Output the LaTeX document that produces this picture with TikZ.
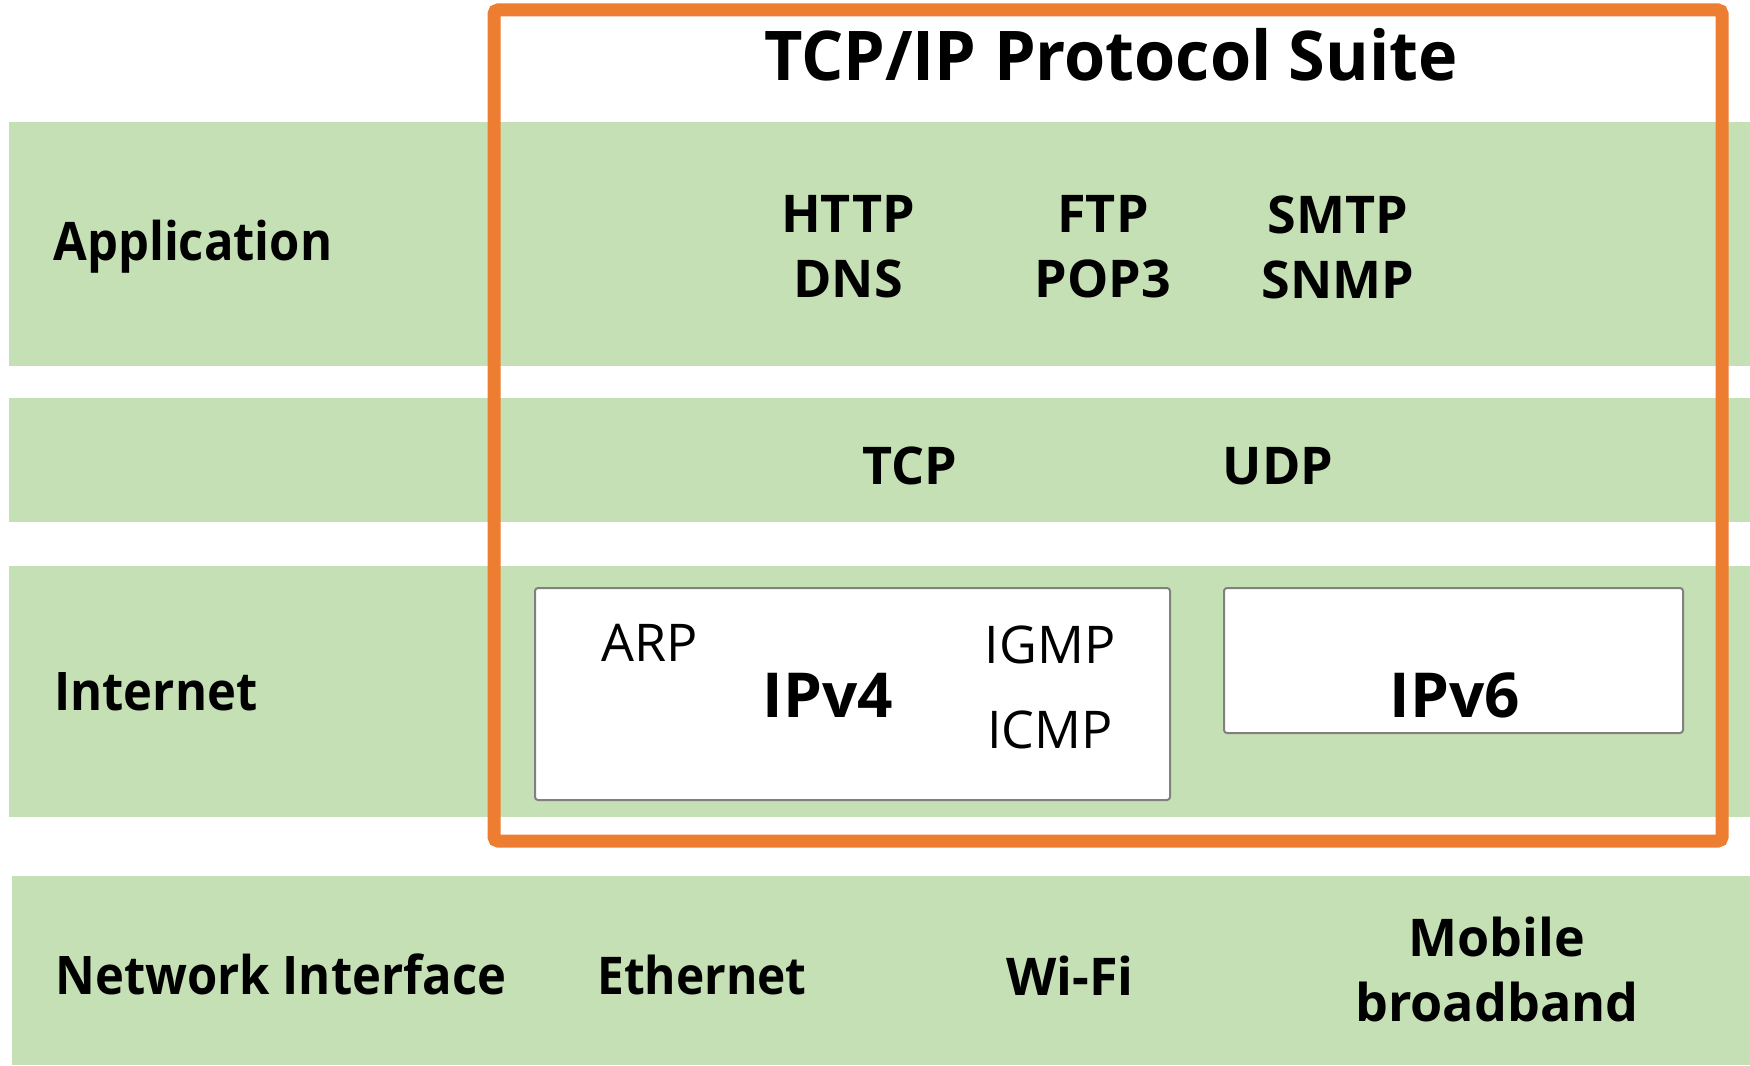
\documentclass[tikz,border=0pt]{standalone}
\usepackage{fontspec}
\setmainfont{Open Sans}
\newfontfamily\narrowsans[FakeStretch=0.92]{Open Sans}
\newfontfamily\titlesans[FakeStretch=0.97]{Open Sans}
\usepackage{tikz}
\usetikzlibrary{positioning}
\definecolor{layergreen}{RGB}{197,224,180}
\definecolor{suiteorange}{RGB}{237,125,49}
\definecolor{boxgray}{RGB}{128,128,128}
\pgfdeclarelayer{bg}
\pgfsetlayers{bg,main}

\begin{document}
\begin{tikzpicture}[x=0.5pt, y=-0.5pt,
band/.style={fill=layergreen, draw=none},
ipbox/.style={fill=white, draw=boxgray, line width=1pt, rounded corners=1.5pt},
layer/.style={anchor=base west, inner sep=0pt, font=\narrowsans\fontsize{26.6}{32}\selectfont\bfseries},
proto/.style={inner sep=0pt, align=center, font=\fontsize{26}{32.5}\selectfont\bfseries},
minor/.style={anchor=base, inner sep=0pt, font=\fontsize{26}{32}\selectfont},
big/.style={anchor=base, inner sep=0pt, font=\fontsize{31}{36}\selectfont\bfseries},
]
\useasboundingbox (0,0) rectangle (1750,1065);

\begin{pgfonlayer}{bg}
	\fill[band] (9,122) rectangle (1750,366);
	\fill[band] (9,398) rectangle (1750,522);
	\fill[band] (9,566) rectangle (1750,817);
	\fill[band] (12,876) rectangle (1750,1065);
\end{pgfonlayer}

% suite frame
\draw[suiteorange, line width=6.5pt, rounded corners=2pt] (494,10) rectangle (1722,841);
\node[anchor=base, inner sep=0pt, font=\titlesans\fontsize{34.3}{40}\selectfont\bfseries] (title) at (1111,81) {TCP/IP Protocol Suite};

% layer names
\node[layer] (application) at (53,260) {Application};
\node[layer] (internet) at (54,710) {Internet};
\node[layer] (netif) at (55,994) {Network Interface};

% application
\node[proto] (http) at (848,247) {HTTP\\DNS};
\node[proto] (ftp) at (1103,247) {FTP\\POP3};
\node[proto] (smtp) at (1338,247) {SMTP\\SNMP};

% transport
\node[proto, anchor=base] (tcp) at (910,484) {TCP};
\node[proto, anchor=base] (udp) at (1278,484) {UDP};

% internet
\draw[ipbox] (535,588) rectangle (1170,800);
\draw[ipbox] (1224,588) rectangle (1683,733);
\node[minor] (arp) at (650,661) {ARP};
\node[big] (ipv4) at (828,717) {IPv4};
\node[minor] (igmp) at (1050,663) {IGMP};
\node[minor] (icmp) at (1050,748) {ICMP};
\node[big] (ipv6) at (1455,717) {IPv6};

% network interface
\node[proto, anchor=base, font=\narrowsans\fontsize{26}{32.5}\selectfont\bfseries] (ethernet) at (702,994) {Ethernet};
\node[proto, anchor=base] (wifi) at (1070,995) {Wi-Fi};
\node[proto] (mobile) at (1497,969) {Mobile\\broadband};
\end{tikzpicture}
\end{document}
